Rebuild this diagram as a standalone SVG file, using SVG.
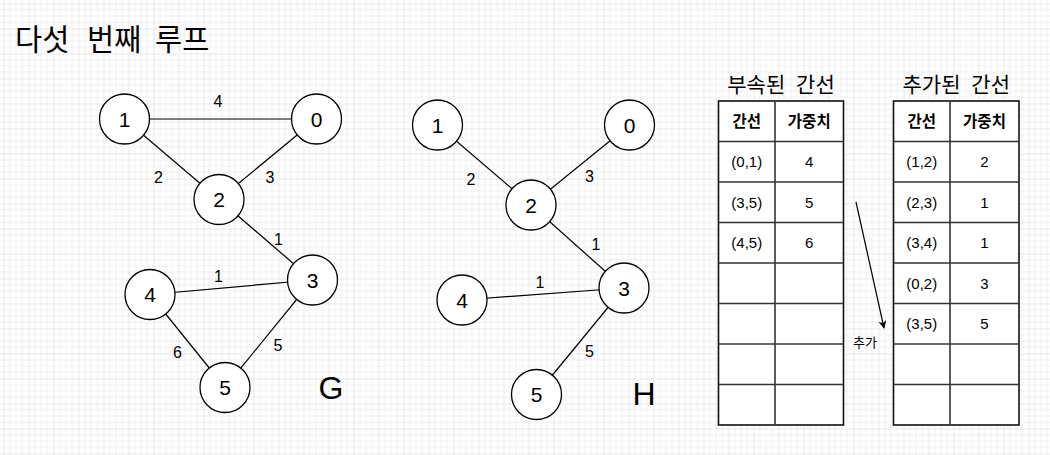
<svg xmlns="http://www.w3.org/2000/svg" width="1050" height="455" viewBox="0 0 1050 455">
<style>
.node circle{fill:#fff;stroke:#000;stroke-width:1.3}
.node text{font-family:"Liberation Sans",Arial,sans-serif;font-size:21px;text-anchor:middle;fill:#000}
.edge{stroke:#000;stroke-width:1.2;fill:none}
.el{font-family:"Liberation Sans",Arial,sans-serif;font-size:16px;text-anchor:middle;fill:#000}
.big{font-family:"Liberation Sans",Arial,sans-serif;font-size:32px;text-anchor:middle;fill:#000}
.kr{font-family:"Liberation Sans","Noto Sans CJK KR",sans-serif;fill:#000}
.title{font-size:21px;text-anchor:middle;word-spacing:5px}
.hd{font-size:15.5px;font-weight:bold;text-anchor:middle}
.cell{font-family:"Liberation Sans","Noto Sans CJK KR",sans-serif;font-size:15px;text-anchor:middle;fill:#000}
.tb rect{fill:#fff;stroke:#111;stroke-width:1.6}
.tb line{stroke:#333;stroke-width:1.6}
</style>
<defs>
<pattern id="grid" patternUnits="userSpaceOnUse" x="3.5" y="3.5" width="25" height="25">
<rect width="25" height="25" fill="#fff"/>
<path d="M6.25 0V25M12.5 0V25M18.75 0V25M0 6.25H25M0 12.5H25M0 18.75H25" stroke="#f0f0f0" stroke-width="1"/>
<path d="M0 0V25M0 0H25" stroke="#d6d6d6" stroke-width="1"/>
</pattern>
<marker id="arr" viewBox="0 0 10 10" refX="9" refY="5" markerWidth="8" markerHeight="8" markerUnits="userSpaceOnUse" orient="auto">
<path d="M0 0L10 5L0 10L3 5Z" fill="#000"/>
</marker>
</defs>
<rect width="1050" height="455" fill="url(#grid)"/>

<text class="kr" font-size="29.5" y="50"><tspan x="15">다섯</tspan> <tspan x="87">번째</tspan> <tspan x="155">루프</tspan></text>

<g id="connectors">
<!-- G -->
<line class="edge" x1="124.5" y1="119" x2="316.5" y2="119"/>
<line class="edge" x1="124.5" y1="119" x2="219" y2="199.5"/>
<line class="edge" x1="316.5" y1="119" x2="219" y2="199.5"/>
<line class="edge" x1="219" y1="199.5" x2="312.5" y2="280"/>
<line class="edge" x1="150" y1="294.5" x2="312.5" y2="280"/>
<line class="edge" x1="150" y1="294.5" x2="225" y2="387.5"/>
<line class="edge" x1="312.5" y1="280" x2="225" y2="387.5"/>
<!-- H -->
<line class="edge" x1="437.5" y1="125" x2="531" y2="205"/>
<line class="edge" x1="629.5" y1="125" x2="531" y2="205"/>
<line class="edge" x1="531" y1="205" x2="624" y2="288"/>
<line class="edge" x1="462" y1="300" x2="624" y2="288"/>
<line class="edge" x1="624" y1="288" x2="536.5" y2="394.5"/>
<!-- arrow -->
<line class="edge" x1="856" y1="202" x2="884" y2="328" marker-end="url(#arr)"/>
<text class="kr" font-size="13" x="865" y="347" text-anchor="middle">추가</text>
<!-- edge labels G -->
<text class="el" x="218" y="106.5">4</text>
<text class="el" x="158.5" y="182.5">2</text>
<text class="el" x="270" y="182.5">3</text>
<text class="el" x="278.5" y="244.5">1</text>
<text class="el" x="218.5" y="281.5">1</text>
<text class="el" x="177.5" y="357.5">6</text>
<text class="el" x="278" y="350.5">5</text>
<!-- edge labels H -->
<text class="el" x="471" y="184.5">2</text>
<text class="el" x="589.5" y="181.5">3</text>
<text class="el" x="596" y="249.5">1</text>
<text class="el" x="540" y="287.5">1</text>
<text class="el" x="589.5" y="356.5">5</text>
</g>

<g id="G-n1" class="node"><circle cx="124.5" cy="119" r="25"/><text x="124.5" y="126.5">1</text></g>
<g id="G-n0" class="node"><circle cx="316.5" cy="119" r="25"/><text x="316.5" y="126.5">0</text></g>
<g id="G-n2" class="node"><circle cx="219" cy="199.5" r="25"/><text x="219" y="207">2</text></g>
<g id="G-n3" class="node"><circle cx="312.5" cy="280" r="25"/><text x="312.5" y="287.5">3</text></g>
<g id="G-n4" class="node"><circle cx="150" cy="294.5" r="25"/><text x="150" y="302">4</text></g>
<g id="G-n5" class="node"><circle cx="225" cy="387.5" r="25"/><text x="225" y="395">5</text></g>
<text id="G-label" class="big" x="331" y="398.5">G</text>

<g id="H-n1" class="node"><circle cx="437.5" cy="125" r="25"/><text x="437.5" y="132.5">1</text></g>
<g id="H-n0" class="node"><circle cx="629.5" cy="125" r="25"/><text x="629.5" y="132.5">0</text></g>
<g id="H-n2" class="node"><circle cx="531" cy="205" r="25"/><text x="531" y="212.5">2</text></g>
<g id="H-n3" class="node"><circle cx="624" cy="288" r="25"/><text x="624" y="295.5">3</text></g>
<g id="H-n4" class="node"><circle cx="462" cy="300" r="25"/><text x="462" y="307.5">4</text></g>
<g id="H-n5" class="node"><circle cx="536.5" cy="394.5" r="25"/><text x="536.5" y="402">5</text></g>
<text id="H-label" class="big" x="644" y="404.5">H</text>

<g id="table-left" class="tb">
<text class="kr title" x="781" y="92">부속된 간선</text>
<rect x="718.5" y="101" width="125" height="324"/>
<line x1="775" y1="101" x2="775" y2="425"/>
<line x1="718.5" y1="141.5" x2="843.5" y2="141.5"/>
<line x1="718.5" y1="182" x2="843.5" y2="182"/>
<line x1="718.5" y1="222.5" x2="843.5" y2="222.5"/>
<line x1="718.5" y1="263" x2="843.5" y2="263"/>
<line x1="718.5" y1="303.5" x2="843.5" y2="303.5"/>
<line x1="718.5" y1="344" x2="843.5" y2="344"/>
<line x1="718.5" y1="384.5" x2="843.5" y2="384.5"/>
<text class="kr hd" x="746.75" y="126.5">간선</text>
<text class="kr hd" x="809.25" y="126.5">가중치</text>
<text class="cell" x="746.75" y="167">(0,1)</text><text class="cell" x="809.25" y="167">4</text>
<text class="cell" x="746.75" y="207.5">(3,5)</text><text class="cell" x="809.25" y="207.5">5</text>
<text class="cell" x="746.75" y="248">(4,5)</text><text class="cell" x="809.25" y="248">6</text>
</g>

<g id="table-right" class="tb">
<text class="kr title" x="956.25" y="92">추가된 간선</text>
<rect x="893.5" y="101" width="125.5" height="324"/>
<line x1="950" y1="101" x2="950" y2="425"/>
<line x1="893.5" y1="141.5" x2="1019" y2="141.5"/>
<line x1="893.5" y1="182" x2="1019" y2="182"/>
<line x1="893.5" y1="222.5" x2="1019" y2="222.5"/>
<line x1="893.5" y1="263" x2="1019" y2="263"/>
<line x1="893.5" y1="303.5" x2="1019" y2="303.5"/>
<line x1="893.5" y1="344" x2="1019" y2="344"/>
<line x1="893.5" y1="384.5" x2="1019" y2="384.5"/>
<text class="kr hd" x="921.75" y="126.5">간선</text>
<text class="kr hd" x="984.5" y="126.5">가중치</text>
<text class="cell" x="921.75" y="167">(1,2)</text><text class="cell" x="984.5" y="167">2</text>
<text class="cell" x="921.75" y="207.5">(2,3)</text><text class="cell" x="984.5" y="207.5">1</text>
<text class="cell" x="921.75" y="248">(3,4)</text><text class="cell" x="984.5" y="248">1</text>
<text class="cell" x="921.75" y="288.5">(0,2)</text><text class="cell" x="984.5" y="288.5">3</text>
<text class="cell" x="921.75" y="329">(3,5)</text><text class="cell" x="984.5" y="329">5</text>
</g>
</svg>
